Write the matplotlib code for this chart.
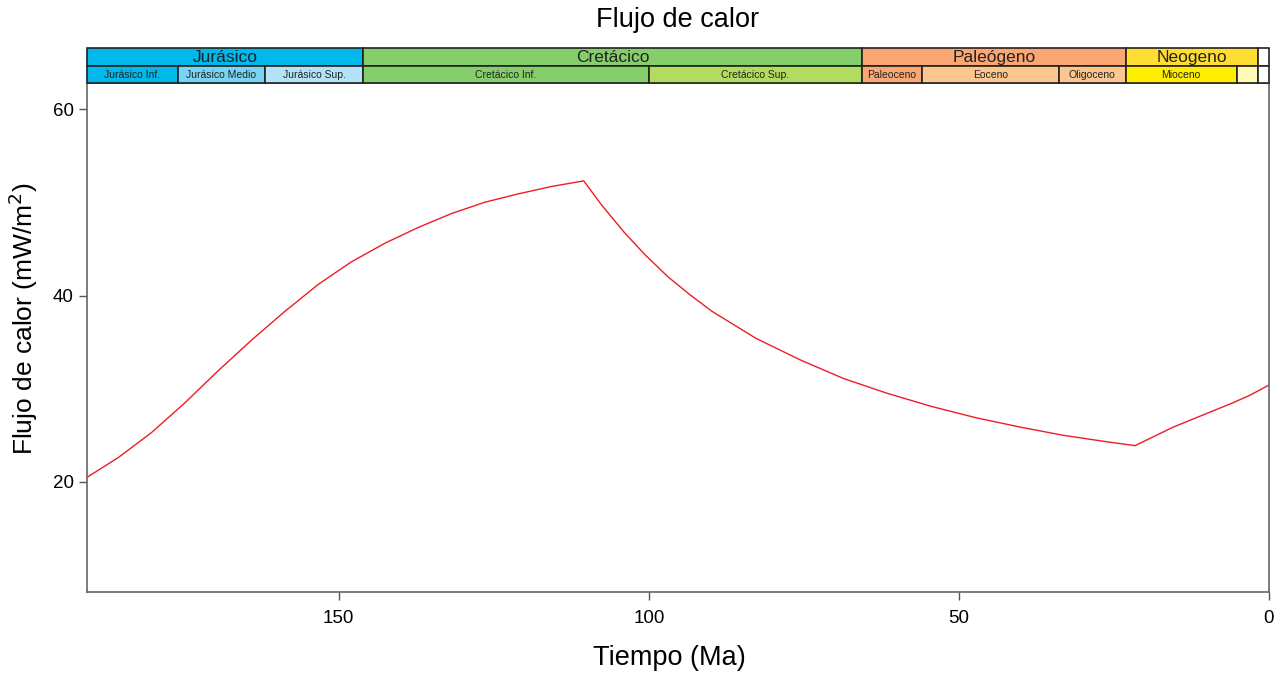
import matplotlib.pyplot as plt
from matplotlib.patches import Rectangle

plt.rcParams['font.family'] = ['Liberation Sans', 'DejaVu Sans']

# heat flow curve (time in Ma, value in mW/m2)
tiempo = [190.6, 185.6, 180.2, 174.8, 169.5, 164.1, 158.7, 153.3, 148.0,
          142.6, 137.2, 131.8, 126.5, 121.1, 115.7, 110.5, 107.6, 104.0,
          100.5, 96.9, 93.4, 89.8, 82.7, 75.6, 68.6, 61.5, 54.4, 47.3,
          40.2, 33.1, 26.0, 21.6, 15.4, 5.8, 3.1, 0.0]
flujo = [20.5, 22.6, 25.3, 28.5, 31.9, 35.2, 38.3, 41.2, 43.6,
         45.6, 47.3, 48.8, 50.0, 50.9, 51.7, 52.3, 49.7, 46.8,
         44.3, 42.0, 40.1, 38.3, 35.4, 33.1, 31.1, 29.5, 28.1, 26.9,
         25.9, 25.0, 24.3, 23.9, 25.9, 28.5, 29.3, 30.4]

# geological time scale (start, end, label, colour)
periodos = [
    (201.3, 146.1, "Jurásico", "#00b8ea"),
    (146.1, 65.6, "Cretácico", "#86cd6b"),
    (65.6, 23.1, "Paleógeno", "#fba774"),
    (23.1, 1.8, "Neogeno", "#ffdd33"),
    (1.8, 0.0, "", "#ffffff"),
]
epocas = [
    (201.3, 176.0, "Jurásico Inf.", "#00b8ea"),
    (176.0, 161.9, "Jurásico Medio", "#78d4f4"),
    (161.9, 146.1, "Jurásico Sup.", "#b3e3f8"),
    (146.1, 100.0, "Cretácico Inf.", "#86cd6b"),
    (100.0, 65.6, "Cretácico Sup.", "#b2dc5d"),
    (65.6, 56.0, "Paleoceno", "#fba774"),
    (56.0, 33.9, "Eoceno", "#fdc68e"),
    (33.9, 23.1, "Oligoceno", "#fdc68e"),
    (23.1, 5.2, "Mioceno", "#ffee00"),
    (5.2, 1.8, "", "#fffab4"),
    (1.8, 0.0, "", "#ffffff"),
]

xmax, xmin = 190.6, 0.0
W, H = 1284, 677

fig = plt.figure(figsize=(W / 100, H / 100), dpi=100)
ax = fig.add_axes([87 / W, (H - 592) / H, (1269 - 87) / W, (592 - 83) / H])
ts = fig.add_axes([87 / W, (H - 83) / H, (1269 - 87) / W, (83 - 48) / H])

ax.plot(tiempo, flujo, color="#ee1c25", lw=1)
ax.set_xlim(xmax, xmin)
ax.set_ylim(8.2, 62.8)
ax.set_xticks([150, 100, 50, 0])
ax.set_yticks([20, 40, 60])
ax.tick_params(labelsize=13.5, length=6, color="#555555", width=1)
ax.tick_params(axis="x", pad=7)
for s in ax.spines.values():
    s.set_color("#666666")
    s.set_linewidth(1.2)
ax.set_xlabel("Tiempo (Ma)", fontsize=19.5)
ax.xaxis.set_label_coords(0.493, -0.104)
ax.set_ylabel("Flujo de calor (mW/m$^2$)", fontsize=19)
ax.yaxis.set_label_coords(-0.040, 0.536)

# time scale bar
ts.set_xlim(xmax, xmin)
ts.set_ylim(0, 2)
ts.axis("off")
for row, data, fs in [(1, periodos, 12.5), (0, epocas, 7.5)]:
    for a, b, lab, col in data:
        a = min(a, xmax)
        ts.add_patch(Rectangle((b, row), a - b, 1, facecolor=col,
                               edgecolor="#222222", lw=1.2, clip_on=False))
        if lab:
            ts.text((a + b) / 2, row + 0.45, lab, ha="center", va="center",
                    fontsize=fs, color="#222222")

fig.text(678 / W, 1 - 20 / H, "Flujo de calor", fontsize=19.5,
         ha="center", va="center")

fig.savefig("out.png", dpi=100)
